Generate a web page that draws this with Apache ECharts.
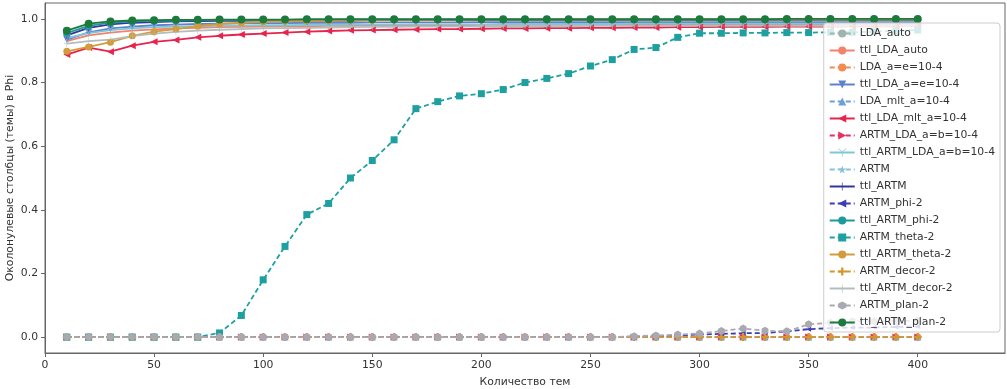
<!DOCTYPE html>
<html>
<head>
<meta charset="utf-8">
<script src="https://cdn.jsdelivr.net/npm/echarts@6/dist/echarts.min.js"></script>
<style>
  html, body { margin: 0; padding: 0; background: #fff; }
  #main { width: 1007px; height: 389px; }
</style>
</head>
<body>
<div id="main"></div>
<script>
// количество тем (ось X)
var topics = [10, 20, 30, 40, 50, 60, 70, 80, 90, 100, 110, 120, 130, 140, 150, 160, 170, 180, 190, 200,
  210, 220, 230, 240, 250, 260, 270, 280, 290, 300, 310, 320, 330, 340, 350, 360, 370, 380, 390, 400];

var xTicks = [0, 50, 100, 150, 200, 250, 300, 350, 400];
var yTicks = [0, 0.2, 0.4, 0.6, 0.8, 1.0];

// доля околонулевых столбцов
var ldaAuto = [0, 0, 0, 0, 0, 0, 0, 0, 0, 0, 0, 0, 0, 0, 0, 0, 0, 0, 0, 0,
  0, 0, 0, 0, 0, 0, 0, 0, 0, 0, 0, 0, 0, 0, 0, 0, 0, 0, 0, 0];
var ttlLdaAuto = [0.93, 0.948, 0.957, 0.963, 0.967, 0.97, 0.972, 0.974, 0.975, 0.976, 0.977, 0.977, 0.978, 0.978, 0.979, 0.979, 0.98, 0.98, 0.98, 0.981,
  0.981, 0.981, 0.981, 0.982, 0.982, 0.982, 0.982, 0.982, 0.982, 0.983, 0.983, 0.983, 0.983, 0.983, 0.983, 0.983, 0.983, 0.983, 0.983, 0.983];
var ldaAe = [0, 0, 0, 0, 0, 0, 0, 0, 0, 0, 0, 0, 0, 0, 0, 0, 0, 0, 0, 0,
  0, 0, 0, 0, 0, 0, 0, 0, 0, 0, 0, 0, 0, 0, 0, 0, 0, 0, 0, 0];
var ttlLdaAe = [0.935, 0.958, 0.97, 0.976, 0.98, 0.982, 0.984, 0.985, 0.986, 0.987, 0.987, 0.988, 0.988, 0.988, 0.989, 0.989, 0.989, 0.989, 0.989, 0.99,
  0.99, 0.99, 0.99, 0.99, 0.99, 0.99, 0.99, 0.99, 0.99, 0.99, 0.99, 0.99, 0.99, 0.99, 0.99, 0.99, 0.99, 0.99, 0.99, 0.99];
var ldaMlt = [0, 0, 0, 0, 0, 0, 0, 0, 0, 0, 0, 0, 0, 0, 0, 0, 0, 0, 0, 0,
  0, 0, 0, 0, 0, 0, 0, 0, 0, 0, 0, 0, 0, 0, 0, 0, 0, 0, 0, 0];
var ttlLdaMlt = [0.888, 0.91, 0.897, 0.916, 0.928, 0.934, 0.942, 0.947, 0.951, 0.954, 0.957, 0.96, 0.962, 0.964, 0.965, 0.966, 0.967, 0.968, 0.968, 0.969,
  0.97, 0.97, 0.971, 0.971, 0.972, 0.972, 0.973, 0.973, 0.974, 0.974, 0.975, 0.975, 0.975, 0.976, 0.976, 0.976, 0.977, 0.977, 0.977, 0.978];
var artmLda = [0, 0, 0, 0, 0, 0, 0, 0, 0, 0, 0, 0, 0, 0, 0, 0, 0, 0, 0, 0,
  0, 0, 0, 0, 0, 0, 0, 0, 0, 0, 0, 0, 0, 0, 0, 0, 0, 0, 0, 0];
var ttlArtmLda = [0.94, 0.955, 0.965, 0.97, 0.974, 0.976, 0.977, 0.978, 0.979, 0.98, 0.98, 0.981, 0.981, 0.982, 0.982, 0.982, 0.983, 0.983, 0.983, 0.983,
  0.984, 0.984, 0.984, 0.984, 0.984, 0.984, 0.985, 0.985, 0.985, 0.985, 0.985, 0.985, 0.985, 0.985, 0.985, 0.985, 0.985, 0.985, 0.985, 0.985];
var artm = [0, 0, 0, 0, 0, 0, 0, 0, 0, 0, 0, 0, 0, 0, 0, 0, 0, 0, 0, 0,
  0, 0, 0, 0, 0, 0, 0, 0, 0, 0, 0, 0, 0, 0, 0, 0, 0, 0, 0, 0];
var ttlArtm = [0.948, 0.972, 0.983, 0.988, 0.99, 0.992, 0.993, 0.994, 0.994, 0.995, 0.995, 0.995, 0.995, 0.995, 0.996, 0.996, 0.996, 0.996, 0.996, 0.996,
  0.996, 0.996, 0.996, 0.996, 0.996, 0.996, 0.996, 0.996, 0.996, 0.996, 0.996, 0.996, 0.996, 0.996, 0.996, 0.996, 0.996, 0.996, 0.996, 0.996];
var artmPhi2 = [0, 0, 0, 0, 0, 0, 0, 0, 0, 0, 0, 0, 0, 0, 0, 0, 0, 0, 0, 0,
  0, 0, 0, 0, 0, 0, 0, 0.003, 0.005, 0.008, 0.01, 0.012, 0.013, 0.018, 0.025, 0.028, 0.03, 0.03, 0.032, 0.033];
var ttlArtmPhi2 = [0.955, 0.978, 0.988, 0.992, 0.994, 0.995, 0.996, 0.996, 0.997, 0.997, 0.997, 0.997, 0.997, 0.998, 0.998, 0.998, 0.998, 0.998, 0.998, 0.998,
  0.998, 0.998, 0.998, 0.998, 0.998, 0.998, 0.998, 0.998, 0.998, 0.998, 0.998, 0.998, 0.998, 0.998, 0.998, 0.998, 0.998, 0.998, 0.998, 0.998];
var artmTheta2 = [0, 0, 0, 0, 0, 0, 0, 0.013, 0.068, 0.18, 0.285, 0.385, 0.42, 0.5, 0.555, 0.62, 0.718, 0.74, 0.758, 0.765,
  0.778, 0.8, 0.813, 0.828, 0.852, 0.872, 0.904, 0.91, 0.942, 0.955, 0.955, 0.956, 0.956, 0.957, 0.957, 0.958, 0.958, 0.96, 0.962, 0.965];
var ttlArtmTheta2 = [0.898, 0.912, 0.927, 0.947, 0.96, 0.968, 0.977, 0.984, 0.988, 0.991, 0.993, 0.994, 0.995, 0.996, 0.996, 0.997, 0.997, 0.997, 0.998, 0.998,
  0.998, 0.998, 0.998, 0.998, 0.998, 0.998, 0.998, 0.998, 0.998, 0.998, 0.998, 0.998, 0.998, 0.998, 0.998, 0.998, 0.998, 0.998, 0.998, 0.998];
var artmDecor2 = [0, 0, 0, 0, 0, 0, 0, 0, 0, 0, 0, 0, 0, 0, 0, 0, 0, 0, 0, 0,
  0, 0, 0, 0, 0, 0, 0, 0, 0, 0, 0, 0, 0, 0, 0, 0, 0, 0, 0, 0];
var ttlArtmDecor2 = [0.922, 0.93, 0.935, 0.946, 0.954, 0.959, 0.963, 0.966, 0.968, 0.97, 0.971, 0.972, 0.973, 0.974, 0.975, 0.975, 0.976, 0.976, 0.976, 0.977,
  0.977, 0.977, 0.977, 0.977, 0.978, 0.978, 0.978, 0.978, 0.978, 0.978, 0.978, 0.978, 0.978, 0.978, 0.978, 0.978, 0.978, 0.978, 0.978, 0.978];
var artmPlan2 = [0, 0, 0, 0, 0, 0, 0, 0, 0, 0, 0, 0, 0, 0, 0, 0, 0, 0, 0, 0,
  0, 0, 0, 0, 0, 0, 0.003, 0.005, 0.008, 0.011, 0.019, 0.027, 0.02, 0.018, 0.04, 0.045, 0.05, 0.05, 0.05, 0.052];
var ttlArtmPlan2 = [0.963, 0.985, 0.992, 0.995, 0.996, 0.997, 0.997, 0.998, 0.998, 0.998, 0.998, 0.999, 0.999, 0.999, 0.999, 0.999, 0.999, 0.999, 0.999, 0.999,
  0.999, 0.999, 0.999, 0.999, 0.999, 0.999, 0.999, 0.999, 0.999, 0.999, 0.999, 0.999, 0.999, 1.0, 1.0, 1.0, 1.0, 1.0, 1.0, 1.0];

// маркеры (как в matplotlib)
var SYM_PLUS = "path://M4.6,0H5.4V4.6H10V5.4H5.4V10H4.6V5.4H0V4.6H4.6Z";
var SYM_PLUS_BOLD = "path://M3.6,0H6.4V3.6H10V6.4H6.4V10H3.6V6.4H0V3.6H3.6Z";
var SYM_STAR = "path://M5,0L6.2,3.6L10,3.6L6.9,5.9L8.1,9.5L5,7.3L1.9,9.5L3.1,5.9L0,3.6L3.8,3.6Z";
var SYM_HEX = "path://M5,0L9.33,2.5L9.33,7.5L5,10L0.67,7.5L0.67,2.5Z";
var SYM_TRI1 = "path://M4.6,4.5V10H5.4V4.5Z M0.3,1.2L4.8,4.8L5.3,4.2L0.8,0.6Z M9.7,1.2L5.2,4.8L4.7,4.2L9.2,0.6Z";

function pairs(ys) {
  return topics.map(function (x, i) { return [x, ys[i]]; });
}

function mkSeries(name, ys, color, dashed, symbol, size, rotate) {
  return {
    name: name,
    type: "line",
    data: pairs(ys),
    color: color,
    symbol: symbol || "none",
    symbolSize: size || 7,
    symbolRotate: rotate || 0,
    symbolKeepAspect: true,
    showSymbol: !!symbol,
    lineStyle: { width: 1.8, color: color, type: dashed ? [5, 3] : "solid" },
    itemStyle: { color: color },
    emphasis: { disabled: true }
  };
}

var chartDom = document.getElementById("main");
var myChart = echarts.init(chartDom);
var option;

var axisFont = { fontFamily: "DejaVu Sans", fontSize: 10.8, color: "#333" };

option = {
  animation: false,
  backgroundColor: "#fff",
  grid: {
    left: 45,
    right: 2,
    top: 3,
    bottom: 36,
    containLabel: false,
    outerBoundsMode: "none",
    show: true,
    borderColor: "#666",
    borderWidth: 1
  },
  legend: {
    orient: "vertical",
    right: 7,
    top: 23,
    itemWidth: 25,
    itemHeight: 10,
    itemGap: 6,
    padding: [5, 5, 4, 5],
    backgroundColor: "rgba(255,255,255,0.8)",
    borderColor: "#ccc",
    borderWidth: 1,
    borderRadius: 3,
    textStyle: { fontFamily: "DejaVu Sans", fontSize: 10.8, lineHeight: 11, color: "#333" },
    data: ["LDA_auto", "ttl_LDA_auto", "LDA_a=e=10-4", "ttl_LDA_a=e=10-4", "LDA_mlt_a=10-4", "ttl_LDA_mlt_a=10-4",
      "ARTM_LDA_a=b=10-4", "ttl_ARTM_LDA_a=b=10-4", "ARTM", "ttl_ARTM", "ARTM_phi-2", "ttl_ARTM_phi-2",
      "ARTM_theta-2", "ttl_ARTM_theta-2", "ARTM_decor-2", "ttl_ARTM_decor-2", "ARTM_plan-2", "ttl_ARTM_plan-2"]
  },
  xAxis: {
    type: "value",
    min: 0,
    max: 440,
    name: "Количество тем",
    nameLocation: "middle",
    nameGap: 24,
    nameMoveOverlap: false,
    nameTextStyle: axisFont,
    splitLine: { show: false },
    axisLine: { show: true, onZero: false, lineStyle: { color: "#666" } },
    axisTick: { show: true, length: 4, customValues: xTicks, lineStyle: { color: "#666" } },
    axisLabel: Object.assign({ customValues: xTicks, margin: 7 }, axisFont)
  },
  yAxis: {
    type: "value",
    min: -0.05,
    max: 1.05,
    name: "Околонулевые столбцы (темы) в Phi",
    nameLocation: "middle",
    nameGap: 29,
    nameMoveOverlap: false,
    nameTextStyle: axisFont,
    splitLine: { show: false },
    axisLine: { show: true, onZero: false, lineStyle: { color: "#666" } },
    axisTick: { show: true, length: 4, customValues: yTicks, lineStyle: { color: "#666" } },
    axisLabel: Object.assign({
      customValues: yTicks,
      margin: 7,
      formatter: function (v) { return v.toFixed(1); }
    }, axisFont)
  },
  series: [
    mkSeries("LDA_auto", ldaAuto, "#9db4b0", true, "circle", 4),
    mkSeries("ttl_LDA_auto", ttlLdaAuto, "#f2826e", false, null),
    mkSeries("LDA_a=e=10-4", ldaAe, "#f28a52", true, "circle", 7),
    mkSeries("ttl_LDA_a=e=10-4", ttlLdaAe, "#5f82c8", false, "triangle", 7, 180),
    mkSeries("LDA_mlt_a=10-4", ldaMlt, "#6e9ed6", true, "triangle", 7),
    mkSeries("ttl_LDA_mlt_a=10-4", ttlLdaMlt, "#e6244c", false, "triangle", 7, 90),
    mkSeries("ARTM_LDA_a=b=10-4", artmLda, "#e83060", true, "triangle", 7, -90),
    mkSeries("ttl_ARTM_LDA_a=b=10-4", ttlArtmLda, "#7fc6d6", false, SYM_TRI1, 8),
    mkSeries("ARTM", artm, "#86c3da", true, SYM_STAR, 7),
    mkSeries("ttl_ARTM", ttlArtm, "#35359a", false, SYM_PLUS, 7),
    mkSeries("ARTM_phi-2", artmPhi2, "#3c3cb4", true, "triangle", 5, 90),
    mkSeries("ttl_ARTM_phi-2", ttlArtmPhi2, "#1e9a9a", false, "circle", 7),
    mkSeries("ARTM_theta-2", artmTheta2, "#1fa0a0", true, "rect", 7),
    mkSeries("ttl_ARTM_theta-2", ttlArtmTheta2, "#d29c3e", false, "circle", 7),
    mkSeries("ARTM_decor-2", artmDecor2, "#d6962e", true, SYM_PLUS_BOLD, 8),
    mkSeries("ttl_ARTM_decor-2", ttlArtmDecor2, "#b4bcbc", false, SYM_PLUS, 6),
    mkSeries("ARTM_plan-2", artmPlan2, "#a9a9b4", true, SYM_HEX, 8),
    mkSeries("ttl_ARTM_plan-2", ttlArtmPlan2, "#1b7a3c", false, "circle", 8)
  ]
};

option && myChart.setOption(option);
</script>
</body>
</html>
